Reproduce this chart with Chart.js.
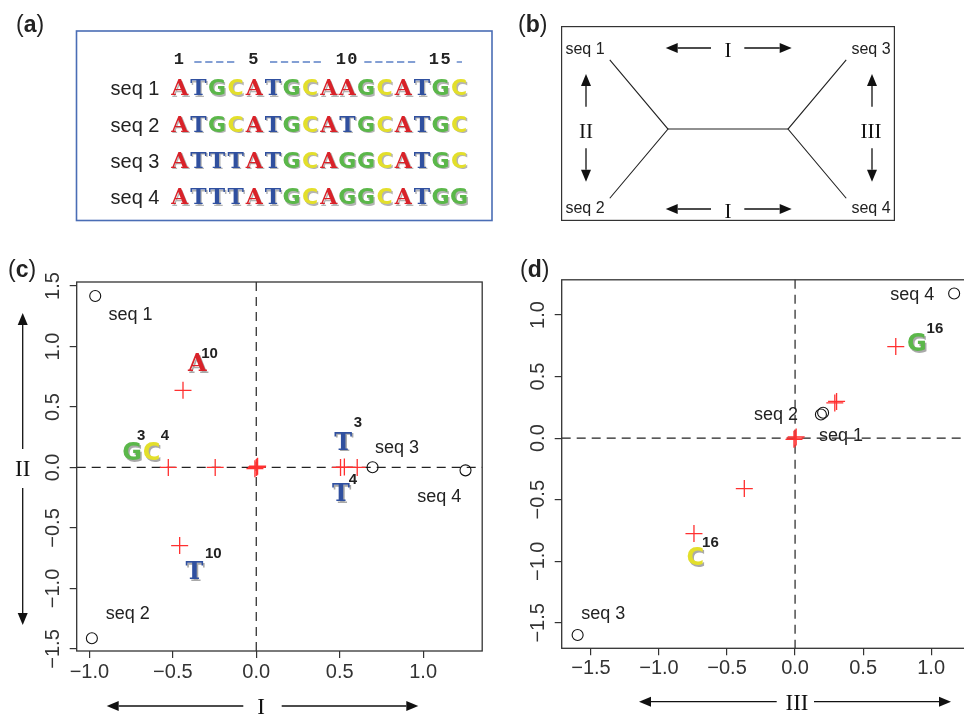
<!DOCTYPE html>
<html>
<head>
<meta charset="utf-8">
<script src="https://cdn.jsdelivr.net/npm/chart.js@4.4.1/dist/chart.umd.min.js"></script>
<style>
body { margin: 0; background: #fff; }
#page { position: relative; width: 964px; height: 714px; overflow: hidden; background: #fff; }
.box { position: absolute; }
#deco { position: absolute; left: 0; top: 0; width: 964px; height: 714px; pointer-events: none; }
</style>
</head>
<body>
<div id="page">
  <div class="box" style="left:561px;top:26px;width:334px;height:195px"><canvas id="chartB"></canvas></div>
  <div class="box" style="left:0px;top:270px;width:492px;height:420px"><canvas id="chartC"></canvas></div>
  <div class="box" style="left:500px;top:270px;width:480px;height:420px"><canvas id="chartD"></canvas></div>
  <div id="deco"></div>
</div>
<script>
// (a) alignment
const seqNames = ['seq 1', 'seq 2', 'seq 3', 'seq 4'];
const seqs = ['ATGCATGCAAGCATGC', 'ATGCATGCATGCATGC', 'ATTTATGCAGGCATGC', 'ATTTATGCAGGCATGG'];
const posTicks = [1, 5, 10, 15];

// (b) tree, leaves seq1, seq2, seq3, seq4
const treeLeafX = [-1.97, -1.97, 1.97, 1.97];
const treeLeafY = [1.15, -1.15, 1.15, -1.15];
const treeInnerX = [-1, 1];
const treeInnerY = [0, 0];

// (c) axes I / II
const cTicksX = [-1, -0.5, 0, 0.5, 1];
const cTicksY = [-1.5, -1, -0.5, 0, 0.5, 1, 1.5];
const cSeqX = [-0.965, -0.985, 0.697, 1.254];
const cSeqY = [1.417, -1.412, 0.002, -0.024];
const cSeqLabelX = [-0.754, -0.770, 0.843, 1.096];
const cSeqLabelY = [1.260, -1.219, 0.155, -0.248];
const cSiteX = [-0.439, -0.459, -0.527, -0.246, 0, 0.008, -0.008, 0.004, 0.505, 0.528, 0.605];
const cSiteY = [0.638, -0.646, 0, 0, 0, 0.010, -0.010, 0.004, 0, 0.003, 0];
const cBase = ['A', 'G', 'C', 'T', 'T', 'T'];
const cBaseX = [-0.353, -0.744, -0.627, 0.521, 0.507, -0.371];
const cBaseY = [0.847, 0.112, 0.112, 0.200, -0.227, -0.874];
const cPos = ['10', '3', '4', '3', '4', '10'];
const cPosX = [-0.280, -0.689, -0.548, 0.609, 0.579, -0.257];
const cPosY = [0.938, 0.261, 0.261, 0.370, -0.103, -0.712];

// (d) axes III
const dTicksX = [-1.5, -1, -0.5, 0, 0.5, 1];
const dTicksY = [-1.5, -1, -0.5, 0, 0.5, 1];
const dSeqX = [0.206, 0.190, -1.598, 1.169];
const dSeqY = [0.206, 0.192, -1.599, 1.175];
const dSeqLabelX = [0.338, -0.140, -1.409, 0.862];
const dSeqLabelY = [0.014, 0.180, -1.429, 1.156];
const dSiteX = [0.740, 0.292, 0.305, 0, 0.008, -0.008, -0.373, -0.743];
const dSiteY = [0.744, 0.286, 0.298, 0, 0.010, -0.010, -0.410, -0.775];
const dBase = ['G', 'C'];
const dBaseX = [0.895, -0.734];
const dBaseY = [0.756, -0.981];
const dPos = ['16', '16'];
const dPosX = [1.028, -0.622];
const dPosY = [0.887, -0.852];

const baseColor = {A: '#d92229', T: '#30509f', G: '#5bb74a', C: '#e3df2b'};
const baseFont = {A: '"DejaVu Serif"', T: '"DejaVu Serif"', G: '"DejaVu Sans"', C: '"DejaVu Sans"'};

function fmt(v) {
  return (v < 0 ? '\u2212' : '') + Math.abs(v).toFixed(1);
}
function pts(xs, ys) {
  return xs.map((x, i) => ({x: x, y: ys[i]}));
}

// ---- panel b: the tree
const L = pts(treeLeafX, treeLeafY), N = pts(treeInnerX, treeInnerY);
const branches = [[L[0], N[0], L[1]], [N[0], N[1]], [L[2], N[1], L[3]]];
new Chart(document.getElementById('chartB'), {
  type: 'scatter',
  data: {datasets: branches.map(b => ({data: b, showLine: true, borderColor: '#222', borderWidth: 1.1, pointRadius: 0}))},
  options: {
    responsive: true, maintainAspectRatio: false, animation: false,
    layout: {padding: 0},
    plugins: {legend: {display: false}, tooltip: {enabled: false}},
    scales: {
      x: {type: 'linear', display: false, min: -2.783, max: 2.783},
      y: {type: 'linear', display: false, min: -1.528, max: 1.712}
    }
  },
  plugins: [{
    id: 'frameB',
    afterDraw(chart) {
      const c = chart.ctx, a = chart.chartArea;
      c.save();
      c.strokeStyle = '#333'; c.lineWidth = 1.2;
      c.strokeRect(a.left + 0.6, a.top + 0.6, a.right - a.left - 1.2, a.bottom - a.top - 1.2);
      c.restore();
    }
  }]
});

// ---- panels c and d
function scatterPanel(id, o) {
  const deco = {
    id: 'deco_' + id,
    beforeDatasetsDraw(chart) {
      const c = chart.ctx, a = chart.chartArea, sx = chart.scales.x, sy = chart.scales.y;
      const px = sx.getPixelForValue(0), py = sy.getPixelForValue(0);
      c.save();
      c.strokeStyle = '#222'; c.lineWidth = 1.2; c.setLineDash([9, 6]);
      c.beginPath();
      c.moveTo(px, a.top); c.lineTo(px, a.bottom);
      c.moveTo(a.left, py); c.lineTo(a.right, py);
      c.stroke();
      c.restore();
    },
    afterDatasetsDraw(chart) {
      const c = chart.ctx, sx = chart.scales.x, sy = chart.scales.y;
      c.save();
      c.textAlign = 'center';
      // sequence names
      c.fillStyle = '#222'; c.font = '18px "Liberation Sans"'; c.textBaseline = 'alphabetic';
      seqNames.forEach((s, i) => {
        c.fillText(s, sx.getPixelForValue(o.labX[i]), sy.getPixelForValue(o.labY[i]) + 4.5);
      });
      // nucleotides with shadow
      c.textBaseline = 'middle';
      o.base.forEach((b, i) => {
        const x = sx.getPixelForValue(o.baseX[i]), y = sy.getPixelForValue(o.baseY[i]);
        c.font = 'bold 24px ' + baseFont[b];
        c.fillStyle = '#a9a9a9'; c.fillText(b, x + 1.5, y + 1.5);
        c.fillStyle = baseColor[b]; c.fillText(b, x, y);
      });
      // positions
      c.font = 'bold 15px "Liberation Sans"'; c.fillStyle = '#222';
      o.pos.forEach((p, i) => {
        c.fillText(p, sx.getPixelForValue(o.posX[i]), sy.getPixelForValue(o.posY[i]));
      });
      c.restore();
    },
    afterDraw(chart) {
      const c = chart.ctx, a = chart.chartArea, sy = chart.scales.y;
      c.save();
      c.strokeStyle = '#333'; c.lineWidth = 1.3;
      c.strokeRect(a.left, a.top, a.right - a.left, a.bottom - a.top);
      c.fillStyle = '#333'; c.font = '20px "Liberation Sans"';
      c.textAlign = 'center'; c.textBaseline = 'middle';
      sy.ticks.forEach(t => {
        c.save();
        c.translate(a.left - 23.4, sy.getPixelForValue(t.value));
        c.rotate(-Math.PI / 2);
        c.fillText(fmt(t.value), 0, 0);
        c.restore();
      });
      c.restore();
    }
  };
  const axisGrid = {drawOnChartArea: false, drawTicks: true, tickLength: 7, color: '#333', lineWidth: 1.2};
  return new Chart(document.getElementById(id), {
    type: 'scatter',
    data: {
      datasets: [
        {data: pts(o.siteX, o.siteY), pointStyle: 'cross', pointRadius: 8.5, pointBorderColor: '#ff3030',
         pointBackgroundColor: '#ff3030', pointBorderWidth: 1.3, clip: false},
        {data: pts(o.seqX, o.seqY), pointStyle: 'circle', pointRadius: 5.5, pointBorderColor: '#111',
         pointBackgroundColor: 'rgba(0,0,0,0)', pointBorderWidth: 1.1, clip: false}
      ]
    },
    options: {
      responsive: true, maintainAspectRatio: false, animation: false,
      layout: {padding: o.pad},
      plugins: {legend: {display: false}, tooltip: {enabled: false}},
      scales: {
        x: {
          type: 'linear', min: o.xMin, max: o.xMax,
          afterBuildTicks: s => { s.ticks = o.ticksX.map(v => ({value: v})); },
          afterFit: s => { s.height = o.xH; },
          grid: axisGrid, border: {display: false},
          ticks: {padding: o.xPad, color: '#333', font: {family: 'Liberation Sans', size: 20},
                  maxRotation: 0, autoSkip: false, callback: v => fmt(v)}
        },
        y: {
          type: 'linear', min: o.yMin, max: o.yMax,
          afterBuildTicks: s => { s.ticks = o.ticksY.map(v => ({value: v})); },
          afterFit: s => { s.width = o.yW; },
          grid: axisGrid, border: {display: false},
          ticks: {display: false}
        }
      }
    },
    plugins: [deco]
  });
}

scatterPanel('chartC', {
  xMin: -1.076, xMax: 1.354, yMin: -1.517, yMax: 1.533,
  ticksX: cTicksX, ticksY: cTicksY,
  seqX: cSeqX, seqY: cSeqY, labX: cSeqLabelX, labY: cSeqLabelY,
  siteX: cSiteX, siteY: cSiteY,
  base: cBase, baseX: cBaseX, baseY: cBaseY, pos: cPos, posX: cPosX, posY: cPosY,
  pad: {top: 12, right: 1, left: 0, bottom: 0}, xH: 39, yW: 76.7, xPad: 2
});
scatterPanel('chartD', {
  xMin: -1.715, xMax: 1.287, yMin: -1.707, yMax: 1.286,
  ticksX: dTicksX, ticksY: dTicksY,
  seqX: dSeqX, seqY: dSeqY, labX: dSeqLabelX, labY: dSeqLabelY,
  siteX: dSiteX, siteY: dSiteY,
  base: dBase, baseX: dBaseX, baseY: dBaseY, pos: dPos, posX: dPosX, posY: dPosY,
  pad: {top: 9, right: 5.5, left: 0, bottom: 0}, xH: 41.7, yW: 61.7, xPad: 1
});

// ---- svg: panel a, labels and arrows
function arrow(x1, y1, x2, y2) {
  const dx = x2 - x1, dy = y2 - y1, len = Math.hypot(dx, dy), ux = dx / len, uy = dy / len;
  const hl = 12, hw = 5;
  const bx = x2 - ux * hl, by = y2 - uy * hl;
  return '<line x1="' + x1 + '" y1="' + y1 + '" x2="' + bx + '" y2="' + by + '" stroke="#111" stroke-width="1.3"/>' +
    '<polygon points="' + x2 + ',' + y2 + ' ' + (bx - uy * hw) + ',' + (by + ux * hw) + ' ' + (bx + uy * hw) + ',' + (by - ux * hw) + '" fill="#111"/>';
}
function tag(x, y, t) {
  return '<text x="' + x + '" y="' + y + '" font-family="Liberation Sans" font-size="23" fill="#222">(<tspan font-weight="bold">' + t + '</tspan>)</text>';
}
function roman(x, y, t, size) {
  return '<text x="' + x + '" y="' + y + '" text-anchor="middle" dominant-baseline="central" font-family="Liberation Serif" font-size="' + size + '" fill="#111">' + t + '</text>';
}
function label(x, y, t, size) {
  return '<text x="' + x + '" y="' + y + '" text-anchor="middle" font-family="Liberation Sans" font-size="' + size + '" fill="#222">' + t + '</text>';
}

let svg = '<svg width="964" height="714" xmlns="http://www.w3.org/2000/svg">';
svg += tag(16, 31.5, 'a') + tag(518, 31.5, 'b') + tag(8, 276.5, 'c') + tag(520, 276.5, 'd');

// panel a
svg += '<rect x="76.5" y="31" width="415.5" height="189.5" fill="none" stroke="#4a6db5" stroke-width="1.6"/>';
const col0 = 179.7, colW = 18.63, row0 = 87.2, rowH = 36.33;
posTicks.forEach(p => {
  svg += '<text x="' + (col0 + (p - 1) * colW) + '" y="64" text-anchor="middle" font-family="Liberation Mono" font-weight="bold" font-size="17" letter-spacing="1.5" fill="#222">' + p + '</text>';
});
[[194.3, 235], [270, 323.3], [364.3, 417.3], [456.7, 462]].forEach(d => {
  svg += '<line x1="' + d[0] + '" y1="62" x2="' + d[1] + '" y2="62" stroke="#5b80c6" stroke-width="1.4" stroke-dasharray="7.3,3.6"/>';
});
seqs.forEach((s, i) => {
  const yb = row0 + i * rowH + 8;
  svg += '<text x="159.5" y="' + yb + '" text-anchor="end" font-family="Liberation Sans" font-size="20" fill="#222">' + seqNames[i] + '</text>';
  s.split('').forEach((b, j) => {
    const x = col0 + j * colW;
    const f = 'font-family=\'' + baseFont[b].replace(/"/g, '') + '\' font-weight="bold" font-size="22" text-anchor="middle"';
    svg += '<text x="' + (x + 1.4) + '" y="' + (yb + 1.4) + '" ' + f + ' fill="#b4b4b4">' + b + '</text>';
    svg += '<text x="' + x + '" y="' + yb + '" ' + f + ' fill="' + baseColor[b] + '">' + b + '</text>';
  });
});

// panel b labels and arrows
svg += label(585, 53.5, 'seq 1', 16) + label(871, 53.5, 'seq 3', 16) + label(585, 212.5, 'seq 2', 16) + label(871, 212.5, 'seq 4', 16);
svg += arrow(711, 48, 665.7, 48) + arrow(744.3, 48, 791.7, 48) + roman(728, 50, 'I', 21);
svg += arrow(711, 209, 665.7, 209) + arrow(744.3, 209, 791.7, 209) + roman(728, 210.5, 'I', 21);
svg += arrow(586, 106.7, 586, 74) + arrow(586, 148.3, 586, 181.7) + roman(586, 130.5, 'II', 21);
svg += arrow(872, 106.7, 872, 74) + arrow(872, 148.3, 872, 181.7) + roman(871, 130.5, 'III', 21);

// panel c and d axis arrows
svg += arrow(22.7, 449, 22.7, 313) + arrow(22.7, 488, 22.7, 625) + roman(22.7, 468.5, 'II', 23);
svg += arrow(243.3, 706, 106.7, 706) + arrow(281.7, 706, 418.3, 706) + roman(261, 706, 'I', 23);
svg += arrow(776.7, 701.7, 639, 701.7) + arrow(814, 701.7, 951, 701.7) + roman(797, 702, 'III', 23);
svg += '</svg>';
document.getElementById('deco').innerHTML = svg;
</script>
</body>
</html>
